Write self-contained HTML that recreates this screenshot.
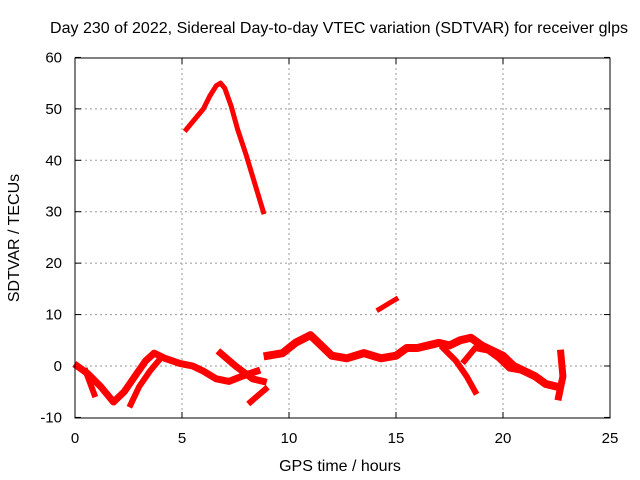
<!DOCTYPE html>
<html><head><meta charset="utf-8"><style>
body{margin:0;background:#fff}
svg{display:block;font-family:"Liberation Sans",sans-serif}
</style></head><body>
<svg id="c" width="640" height="480">
<text x="339" y="33" font-size="16" text-anchor="middle" textLength="578">Day 230 of 2022, Sidereal Day-to-day VTEC variation (SDTVAR) for receiver glps</text>
<text x="340" y="471" font-size="16" text-anchor="middle">GPS time / hours</text>
<text transform="translate(19,238) rotate(-90)" font-size="16" text-anchor="middle">SDTVAR / TECUs</text>
<g id="grid"></g><g id="ticks"></g><g id="data"></g>
<rect x="75" y="58" width="535" height="360" fill="none" stroke="#000" stroke-width="1"/>
</svg>
<script>
const xTicks=[0,5,10,15,20,25];
const yTicks=[-10,0,10,20,30,40,50,60];
const peakX=[5.2,5.6,6.0,6.3,6.6,6.8,7.0,7.3,7.6,8.0,8.4,8.8];
const peakY=[46,48,50,52.5,54.5,55,54,50.5,46,41,35.5,30];
const blipX=[14.2,14.6,15.0];
const blipY=[11,12,13];
const t1X=[0.1,0.6,1.2,1.8,2.3,2.8,3.3,3.7,4.2,4.9,5.5,6.0,6.6,7.2,7.8,8.5];
const t1Y=[0,-1.5,-4,-7,-5,-2,1,2.5,1.5,0.5,0,-1,-2.5,-3,-2,-1];
const t2X=[0.5,0.9];
const t2Y=[-1,-5.5];
const t3X=[2.6,3.0,3.5,3.9];
const t3Y=[-7.5,-4,-1,1];
const t4X=[6.8,7.5,8.3,8.8];
const t4Y=[2.5,0,-2.5,-3];
const t5X=[8.2,8.9];
const t5Y=[-7,-4.5];
const t6X=[9,9.7,10.3,11,11.5,12,12.7,13.5,14.3,15,15.5,16,16.5,17,17.5,18,18.5,19,19.5,20,20.5,21,21.5,22,22.5];
const t6Y=[2,2.5,4.5,6,4,2,1.5,2.5,1.5,2,3.5,3.5,4,4.5,4,5,5.5,4,3,2,0,-1,-2,-3.5,-4];
const t7X=[17.2,17.8,18.3,18.7];
const t7Y=[3.5,1,-2,-5];
const t8X=[18.2,18.7,19.3,19.8,20.3,21];
const t8Y=[1,3.5,3,1.5,-0.5,-1];
const t9X=[22.6,22.8,22.7];
const t9Y=[-6,-2,2.5];
const sx=v=>75+v*21.4, sy=v=>366-v*360/70;
const NS="http://www.w3.org/2000/svg";
const grid=document.getElementById('grid'),ticks=document.getElementById('ticks'),data=document.getElementById('data');
function mk(t,a,p){const e=document.createElementNS(NS,t);for(const k in a)e.setAttribute(k,a[k]);p.appendChild(e);return e;}
xTicks.forEach(v=>{
 if(v>0&&v<25){const g=mk('line',{x1:sx(v),x2:sx(v),y1:58,y2:418,stroke:'#999','stroke-dasharray':'2,3'},grid);
 
 }
 mk('line',{x1:sx(v),x2:sx(v),y1:418,y2:412,stroke:'#000'},ticks);
 mk('line',{x1:sx(v),x2:sx(v),y1:58,y2:64,stroke:'#000'},ticks);
 const t=mk('text',{x:sx(v),y:443,'font-size':15,'text-anchor':'middle'},ticks);t.textContent=v;
 
 
});
yTicks.forEach(v=>{
 if(v>-10&&v<60){const g=mk('line',{x1:75,x2:610,y1:sy(v),y2:sy(v),stroke:'#999','stroke-dasharray':'2,3'},grid);
 
 }
 mk('line',{x1:75,x2:81,y1:sy(v),y2:sy(v),stroke:'#000'},ticks);
 mk('line',{x1:610,x2:604,y1:sy(v),y2:sy(v),stroke:'#000'},ticks);
 const t=mk('text',{x:62,y:sy(v)+5,'font-size':15,'text-anchor':'end'},ticks);t.textContent=v;
 
 
});
const series=[[peakX,peakY,5],[blipX,blipY,5],[t1X,t1Y,7],[t2X,t2Y,6],[t3X,t3Y,6],[t4X,t4Y,7],[t5X,t5Y,6],[t6X,t6Y,8],[t7X,t7Y,6],[t8X,t8Y,6],[t9X,t9Y,7]];
series.forEach(([xs,ys,w])=>{
 const pts=xs.map((x,i)=>sx(x)+','+sy(ys[i])).join(' ');
 const p=mk('polyline',{points:pts,fill:'none',stroke:'#f00','stroke-width':w,'stroke-linejoin':'round','stroke-linecap':'square'},data);
 
 
});
</script>
</body></html>
